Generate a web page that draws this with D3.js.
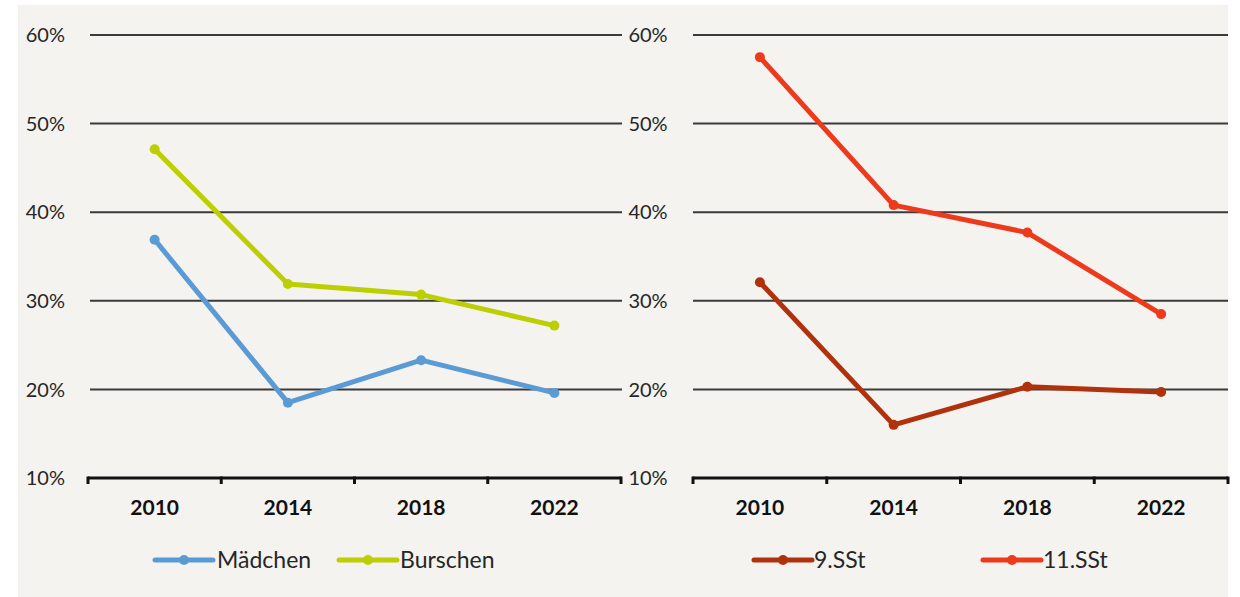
<!DOCTYPE html>
<html>
<head>
<meta charset="utf-8">
<script src="https://cdn.jsdelivr.net/npm/d3@7"></script>
<style>
  body { margin: 0; background: #fff; }
  svg { display: block; }
</style>
</head>
<body>
<script>
// Data
const years = ['2010', '2014', '2018', '2022'];
const yTicks = [0.1, 0.2, 0.3, 0.4, 0.5, 0.6];
const maedchen = [0.369, 0.185, 0.233, 0.196];
const burschen = [0.471, 0.319, 0.307, 0.272];
const sst9 = [0.321, 0.160, 0.203, 0.197];
const sst11 = [0.575, 0.408, 0.377, 0.285];

const width = 1240, height = 597;
const font = 'Lato, "Open Sans", sans-serif';

const svg = d3.select('body').append('svg')
    .attr('width', width)
    .attr('height', height);

// Panel background
svg.append('rect')
    .attr('x', 18).attr('y', 5)
    .attr('width', 1210).attr('height', 592)
    .attr('fill', '#f4f3f0');

const y = d3.scaleLinear().domain([0.1, 0.6]).range([478, 35]);

const panels = [
    {
        x0: 88, x1: 621, gridX0: 90, gridX1: 622,
        labelX: 65, labelAnchor: 'end',
        series: [
            { name: 'Mädchen', values: maedchen, color: '#5b9bd5' },
            { name: 'Burschen', values: burschen, color: '#bccf02' }
        ],
        legend: [{ x: 155, text: 217 }, { x: 339, text: 400 }]
    },
    {
        x0: 693, x1: 1228, gridX0: 693, gridX1: 1228,
        labelX: 648, labelAnchor: 'middle',
        series: [
            { name: '9.SSt', values: sst9, color: '#b0320c' },
            { name: '11.SSt', values: sst11, color: '#ee3a1c' }
        ],
        legend: [{ x: 754, text: 814 }, { x: 983, text: 1043 }]
    }
];

panels.forEach(p => {
    const x = d3.scaleBand().domain(years).range([p.x0, p.x1]);
    const g = svg.append('g');

    // Gridlines (not at the baseline)
    g.selectAll('.grid')
        .data(yTicks.filter(t => t > 0.1))
        .enter()
        .append('line')
        .attr('x1', p.gridX0)
        .attr('x2', p.gridX1)
        .attr('y1', d => y(d))
        .attr('y2', d => y(d))
        .attr('stroke', '#3a3a3a')
        .attr('stroke-width', 2);

    // Y labels
    g.selectAll('.ylab')
        .data(yTicks)
        .enter()
        .append('text')
        .attr('x', p.labelX)
        .attr('y', d => y(d))
        .attr('dy', '0.36em')
        .attr('text-anchor', p.labelAnchor)
        .attr('font-family', font)
        .attr('font-size', '20px')
        .attr('fill', '#262626')
        .text(d => d3.format('.0%')(d));

    // X axis with category boundary ticks
    const xAxis = d3.axisBottom(x).tickSize(0).tickPadding(22);
    const ax = g.append('g')
        .attr('transform', `translate(0,${y(0.1)})`)
        .call(xAxis);
    ax.select('.domain').remove();
    ax.selectAll('text')
        .attr('font-family', font)
        .attr('font-size', '21px')
        .attr('font-weight', 'bold')
        .attr('fill', '#111');

    g.append('line')
        .attr('x1', p.x0).attr('x2', p.x1)
        .attr('y1', y(0.1)).attr('y2', y(0.1))
        .attr('stroke', '#111')
        .attr('stroke-width', 3);

    const bounds = years.map(d => x(d)).concat([p.x1]);
    g.selectAll('.btick')
        .data(bounds)
        .enter()
        .append('line')
        .attr('x1', d => d).attr('x2', d => d)
        .attr('y1', y(0.1) - 1.5).attr('y2', y(0.1) + 6)
        .attr('stroke', '#111')
        .attr('stroke-width', 3);

    // Series lines and markers
    const line = d3.line()
        .x((d, i) => x(years[i]) + x.bandwidth() / 2)
        .y(d => y(d));

    p.series.forEach((s, si) => {
        g.append('path')
            .datum(s.values)
            .attr('d', line)
            .attr('fill', 'none')
            .attr('stroke', s.color)
            .attr('stroke-width', 5)
            .attr('stroke-linejoin', 'round');

        g.selectAll('.pt' + si)
            .data(s.values)
            .enter()
            .append('circle')
            .attr('cx', (d, i) => x(years[i]) + x.bandwidth() / 2)
            .attr('cy', d => y(d))
            .attr('r', 5)
            .attr('fill', s.color);

        // Legend
        const lg = p.legend[si];
        g.append('line')
            .attr('x1', lg.x).attr('x2', lg.x + 58)
            .attr('y1', 560).attr('y2', 560)
            .attr('stroke', s.color)
            .attr('stroke-width', 5)
            .attr('stroke-linecap', 'round');
        g.append('circle')
            .attr('cx', lg.x + 29).attr('cy', 560)
            .attr('r', 5)
            .attr('fill', s.color);
        g.append('text')
            .attr('x', lg.text)
            .attr('y', 560)
            .attr('dy', '0.36em')
            .attr('font-family', font)
            .attr('font-size', '23px')
            .attr('fill', '#262626')
            .text(s.name);
    });
});
</script>
</body>
</html>
